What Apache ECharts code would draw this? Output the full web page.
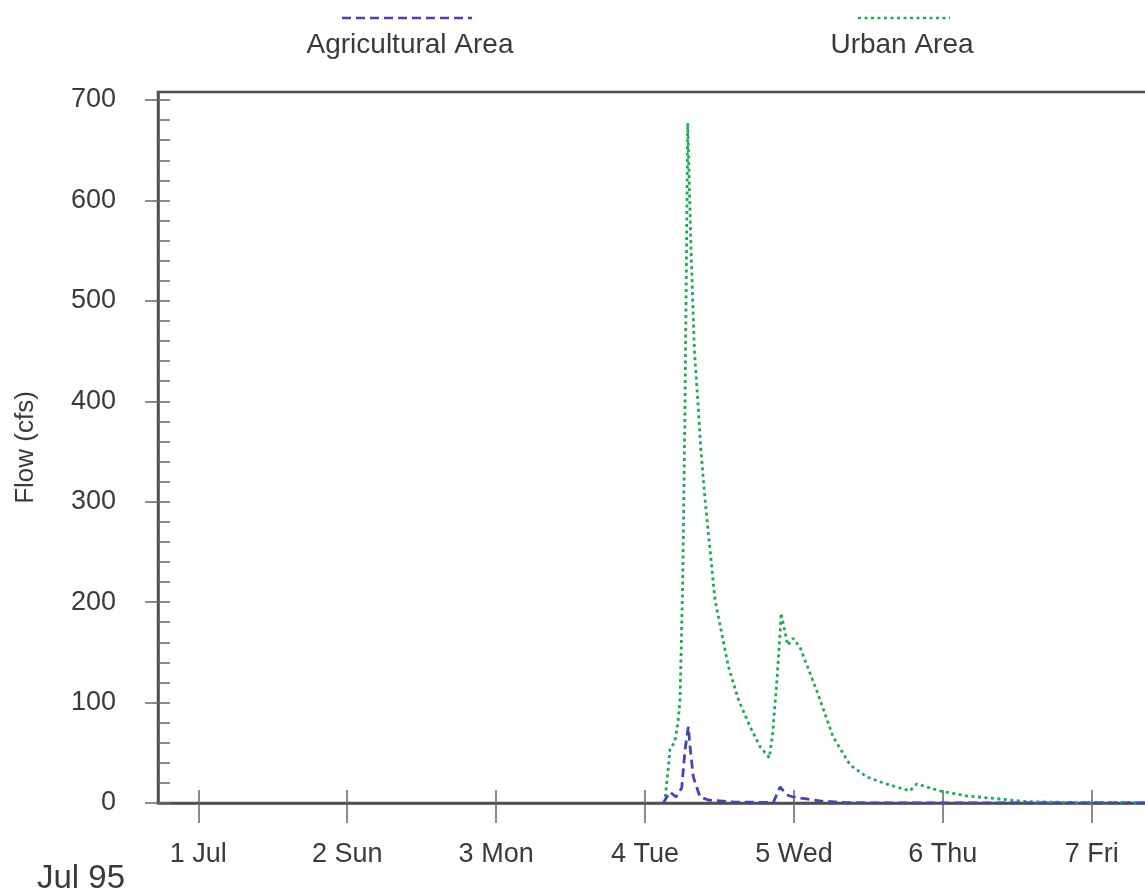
<!DOCTYPE html>
<html>
<head>
<meta charset="utf-8">
<title>Flow (cfs) - Jul 95</title>
<script src="https://cdn.jsdelivr.net/npm/echarts@6/dist/echarts.min.js"></script>
<style>
  html, body { margin: 0; padding: 0; background: #fff; }
  #chart { width: 1145px; height: 896px; }
</style>
</head>
<body>
<div id="chart"></div>
<script>
// Day tick positions (hours since 1 Jul 00:00) and their labels
const dayTicks = [0, 24, 48, 72, 96, 120, 144];
const dayLabels = ['1 Jul', '2 Sun', '3 Mon', '4 Tue', '5 Wed', '6 Thu', '7 Fri'];
const flowTicks = [0, 100, 200, 300, 400, 500, 600, 700];
const flowMinorTicks = [0, 20, 40, 60, 80, 100, 120, 140, 160, 180, 200, 220, 240, 260, 280, 300,
  320, 340, 360, 380, 400, 420, 440, 460, 480, 500, 520, 540, 560, 580, 600, 620, 640, 660, 680, 700];

// Urban Area hydrograph: time (h) and flow (cfs)
const urbanHours = [75.0, 75.22, 75.76, 76.03, 76.5, 76.83, 77.3, 77.64, 78.08, 78.45, 78.88,
  79.41, 79.95, 80.5, 81.0, 81.67, 82.48, 83.28, 84.36, 85.43, 87.04, 88.93, 90.54, 92.04, 92.58,
  93.23, 93.76, 93.92, 95.0, 95.85, 96.98, 99.67, 102.3, 105.04, 107.73, 110.36, 114.69, 115.79,
  119.55, 123.85, 129.22, 133.52, 142.6, 175];
const urbanFlow = [0, 3, 36, 55, 58, 62, 80, 103, 222, 400, 677,
  551, 451, 401, 352, 302, 252, 202, 169, 136, 103, 76, 56, 45, 70,
  120, 169, 189, 157, 164, 155, 112, 66, 38, 26, 20, 12, 19,
  12, 7, 4, 1.3, 0.3, 0];

// Agricultural Area hydrograph: time (h) and flow (cfs)
const agriHours = [75.0, 75.22, 76.03, 76.99, 77.91, 78.45, 78.98, 79.25, 79.78, 80.86, 82.2,
  86.18, 92.68, 93.76, 94.84, 95.9, 98.06, 100.2, 104, 110, 175];
const agriFlow = [0, 3, 11, 6, 15, 53, 76, 56, 26, 6, 3,
  1, 0.5, 16, 8, 6, 4, 2, 0.5, 0, 0];

const pairs = (xs, ys) => xs.map((x, i) => [x, ys[i]]);

const FONT = "'Liberation Sans', Arial, sans-serif";
const TEXT = '#3a3a3a';
const AXIS = '#505050';
const TICK = '#666';
const BLUE = '#4343bb';
const GREEN = '#1aaa58';

const X_MIN = -6.5, X_MAX = 174.5;
const Y_MAX = 708;

const chart = echarts.init(document.getElementById('chart'), null, { renderer: 'canvas' });

chart.setOption({
  animation: false,
  backgroundColor: '#fff',
  grid: {
    left: 158, top: 92, width: 1123, height: 711,
    outerBoundsMode: 'none', containLabel: false,
    show: true, borderColor: AXIS, borderWidth: 2.5, backgroundColor: 'transparent'
  },
  xAxis: [
    {
      type: 'value', min: X_MIN, max: X_MAX, position: 'bottom',
      axisLine: { show: true, onZero: false, lineStyle: { color: AXIS, width: 2.5 } },
      axisTick: { show: true, inside: false, length: 20, customValues: dayTicks,
        lineStyle: { color: TICK, width: 1.5 } },
      axisLabel: {
        customValues: dayTicks, margin: 38, color: TEXT, fontFamily: FONT, fontSize: 27,
        lineHeight: 27,
        formatter: v => dayLabels[dayTicks.indexOf(v)] || ''
      },
      splitLine: { show: false }
    },
    {
      type: 'value', min: X_MIN, max: X_MAX, position: 'bottom',
      axisLine: { show: false, onZero: false },
      axisTick: { show: true, inside: true, length: 13, customValues: dayTicks,
        lineStyle: { color: TICK, width: 1.5 } },
      axisLabel: { show: false },
      splitLine: { show: false }
    }
  ],
  yAxis: [
    {
      type: 'value', min: 0, max: Y_MAX, position: 'left',
      name: 'Flow (cfs)', nameLocation: 'middle', nameGap: 119, nameRotate: 90,
      nameTextStyle: { color: TEXT, fontFamily: FONT, fontSize: 26 },
      axisLine: { show: true, onZero: false, lineStyle: { color: AXIS, width: 2.5 } },
      axisTick: { show: true, inside: false, length: 13, customValues: flowTicks,
        lineStyle: { color: TICK, width: 1.5 } },
      axisLabel: {
        customValues: flowTicks, margin: 42, color: TEXT, fontFamily: FONT, fontSize: 27,
        padding: [10, 0, 0, 0]
      },
      splitLine: { show: false }
    },
    {
      type: 'value', min: 0, max: Y_MAX, position: 'left',
      axisLine: { show: false, onZero: false },
      axisTick: { show: true, inside: true, length: 12, customValues: flowMinorTicks,
        lineStyle: { color: TICK, width: 1.5 } },
      axisLabel: { show: false },
      splitLine: { show: false }
    }
  ],
  graphic: [
    { type: 'line', shape: { x1: 342, y1: 18, x2: 472, y2: 18 },
      style: { stroke: BLUE, lineWidth: 2.5, lineDash: [9, 5] } },
    { type: 'text', x: 410, y: 45,
      style: { text: 'Agricultural Area', fill: TEXT, font: '28px ' + FONT,
        textAlign: 'center', textVerticalAlign: 'middle' } },
    { type: 'line', shape: { x1: 858, y1: 18, x2: 950, y2: 18 },
      style: { stroke: GREEN, lineWidth: 2.5, lineDash: [3, 3.5] } },
    { type: 'text', x: 902, y: 45,
      style: { text: 'Urban Area', fill: TEXT, font: '28px ' + FONT,
        textAlign: 'center', textVerticalAlign: 'middle' } },
    { type: 'text', x: 37, y: 879,
      style: { text: 'Jul 95', fill: TEXT, font: '33px ' + FONT,
        textAlign: 'left', textVerticalAlign: 'middle' } }
  ],
  series: [
    {
      name: 'Urban Area', type: 'line', xAxisIndex: 0, yAxisIndex: 0,
      showSymbol: false, smooth: false, silent: true,
      lineStyle: { color: GREEN, width: 2.8, type: [3, 3.5] },
      data: pairs(urbanHours, urbanFlow)
    },
    {
      name: 'Agricultural Area', type: 'line', xAxisIndex: 0, yAxisIndex: 0,
      showSymbol: false, smooth: false, silent: true,
      lineStyle: { color: BLUE, width: 2.8, type: [9, 5] },
      data: pairs(agriHours, agriFlow)
    }
  ]
});
</script>
</body>
</html>
